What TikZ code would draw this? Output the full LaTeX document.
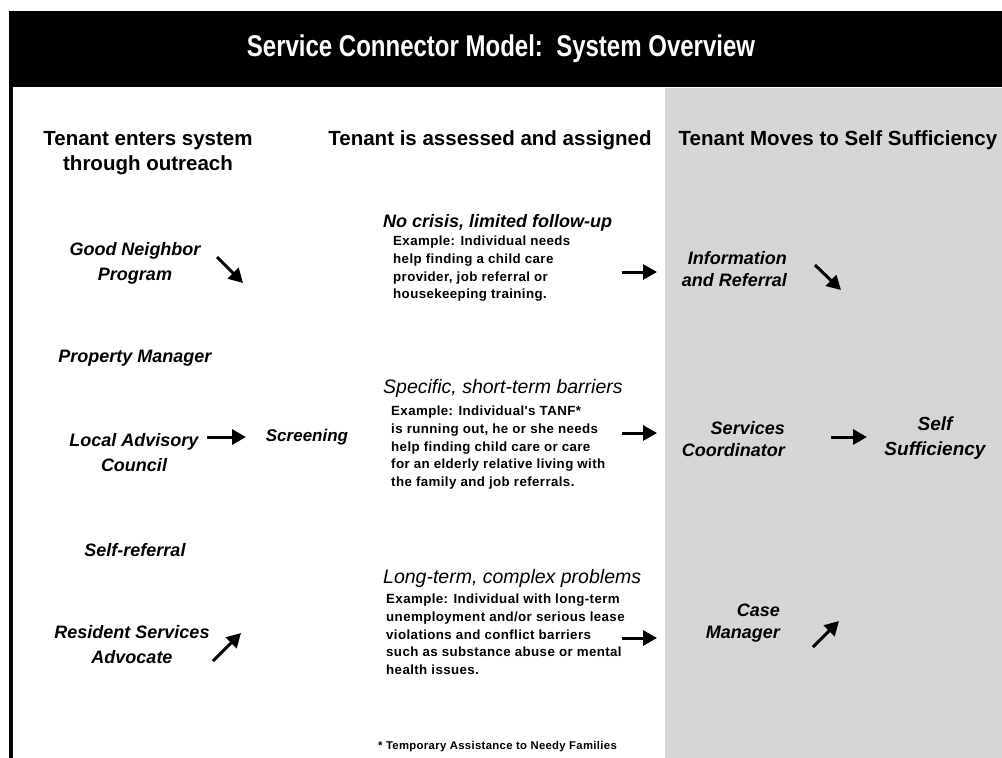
\documentclass[tikz,border=0pt]{standalone}
\usepackage{fontspec}
\setmainfont{Liberation Sans}
\newfontfamily\titlefont[FakeStretch=0.8]{Liberation Sans}
\newfontfamily\notefont[LetterSpace=3]{Liberation Sans}
\usetikzlibrary{arrows.meta}
\definecolor{panelgray}{RGB}{214,214,214}

\begin{document}
\begin{tikzpicture}[x=1pt,y=-1pt,inner sep=0pt,
  titletext/.style={text=white,font=\titlefont\bfseries\fontsize{30}{36}\selectfont},
  colhead/.style={font=\bfseries\fontsize{20.5}{25}\selectfont,align=center},
  source/.style={font=\bfseries\itshape\fontsize{18}{25}\selectfont,align=center},
  service/.style={font=\bfseries\itshape\fontsize{18}{22}\selectfont,align=right,anchor=east},
  goal/.style={font=\bfseries\itshape\fontsize{19}{25}\selectfont,align=center},
  levelA/.style={font=\bfseries\itshape\fontsize{18}{22}\selectfont,anchor=west},
  levelB/.style={font=\itshape\fontsize{19.5}{22}\selectfont,anchor=west},
  example/.style={font=\notefont\bfseries\fontsize{13.3}{17.7}\selectfont,align=left,anchor=north west},
  footnote/.style={font=\notefont\bfseries\fontsize{11.3}{14}\selectfont,anchor=west},
  arr/.style={line width=3pt,-{Triangle[length=14pt,width=15pt]}}
]
\useasboundingbox (0,0) rectangle (1002,758);
% page, outcome panel, title bar and left rule
\fill[white] (0,0) rectangle (1002,758);
\fill[panelgray] (665,88) rectangle (1002,758);
\fill[black] (9,11) rectangle (1002,87);
\fill[black] (9,11) rectangle (12.5,758);

\node[titletext] (title) at (501,49) {Service Connector Model:\ \ System Overview};

% column headings
\node[colhead] (hin)  at (148,153) {Tenant enters system\\through outreach};
\node[colhead] (hmid) at (490,140) {Tenant is assessed and assigned};
\node[colhead] (hout) at (838,140) {Tenant Moves to Self Sufficiency};

% outreach sources
\node[source] (gnp) at (135,263) {Good Neighbor\\Program};
\node[source] (pm)  at (135,358) {Property Manager};
\node[source] (lac) at (134,453) {Local Advisory\\Council};
\node[source] (sr)  at (135,550) {Self-referral};
\node[source] (rsa) at (132,645) {Resident Services\\Advocate};
\node[source,font=\bfseries\itshape\fontsize{17}{22}\selectfont] (scr) at (307,437) {Screening};

% assessment levels
\node[levelA] (lv1) at (383,223) {No crisis, limited follow-up};
\node[example] (ex1) at (393,236) {Example: Individual needs\\help finding a child care\\provider, job referral or\\housekeeping training.};
\node[levelB] (lv2) at (383,388) {Specific, short-term barriers};
\node[example] (ex2) at (391,406) {Example: Individual's TANF*\\is running out, he or she needs\\help finding child care or care\\for an elderly relative living with\\the family and job referrals.};
\node[levelB] (lv3) at (383,578) {Long-term, complex problems};
\node[example] (ex3) at (386,594) {Example: Individual with long-term\\unemployment and/or serious lease\\violations and conflict barriers\\such as substance abuse or mental\\health issues.};
\node[footnote] (fn) at (378,747) {* Temporary Assistance to Needy Families};

% services
\node[service] (ir) at (787,269) {Information\\and Referral};
\node[service] (sc) at (785,439) {Services\\Coordinator};
\node[service] (cm) at (780,623) {Case\\Manager};
\node[goal] (ss) at (935,438) {Self\\Sufficiency};

% arrow end points
\coordinate (gnpA) at (217,257);  \coordinate (gnpB) at (243,283);
\coordinate (lacA) at (207,437);  \coordinate (lacB) at (246,437);
\coordinate (rsaA) at (213,661);  \coordinate (rsaB) at (241,633);
\coordinate (ex1A) at (622,272);  \coordinate (ex1B) at (657,272);
\coordinate (ex2A) at (622,433);  \coordinate (ex2B) at (657,433);
\coordinate (ex3A) at (622,638);  \coordinate (ex3B) at (657,638);
\coordinate (irA)  at (815,265);  \coordinate (irB)  at (841,290);
\coordinate (scA)  at (831,437);  \coordinate (scB)  at (867,437);
\coordinate (cmA)  at (813,647);  \coordinate (cmB)  at (839,621);

\draw[arr] (gnpA) -- (gnpB);
\draw[arr] (lacA) -- (lacB);
\draw[arr] (rsaA) -- (rsaB);
\draw[arr] (ex1A) -- (ex1B);
\draw[arr] (ex2A) -- (ex2B);
\draw[arr] (ex3A) -- (ex3B);
\draw[arr] (irA) -- (irB);
\draw[arr] (scA) -- (scB);
\draw[arr] (cmA) -- (cmB);
\end{tikzpicture}
\end{document}
